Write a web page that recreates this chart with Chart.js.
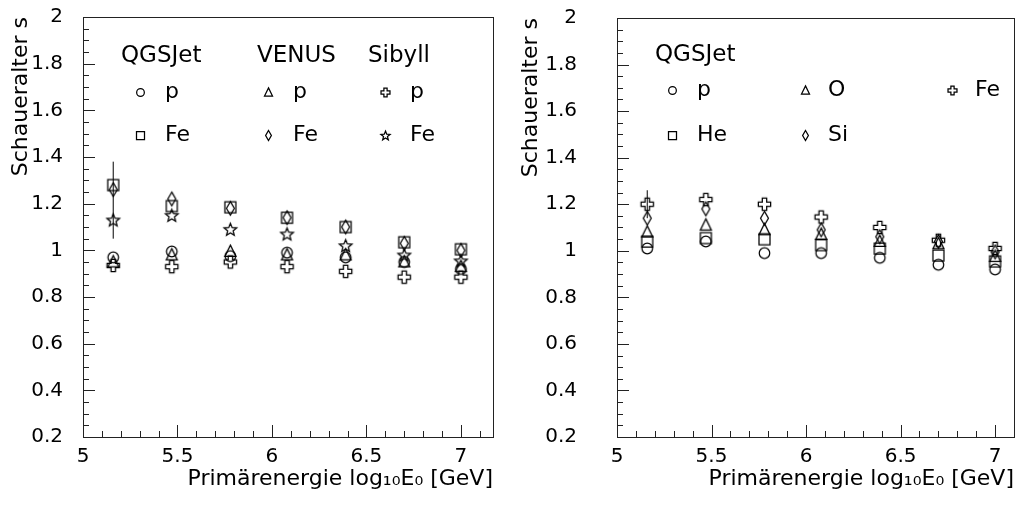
<!DOCTYPE html>
<html>
<head>
<meta charset="utf-8">
<script src="https://cdn.jsdelivr.net/npm/chart.js@4.4.1/dist/chart.umd.min.js"></script>
<style>
  html, body { margin: 0; padding: 0; background: #fff; }
  body { width: 1024px; height: 507px; position: relative; overflow: hidden; }
  canvas { position: absolute; top: 0; }
  #left { left: 0; }
  #right { left: 512px; }
</style>
</head>
<body>
<canvas id="left" width="512" height="507"></canvas>
<canvas id="right" width="512" height="507"></canvas>
<script>
/* ---------- Data ---------- */
const energies = [5.16, 5.47, 5.78, 6.08, 6.39, 6.70, 7.00];

// left panel: models, proton and iron
const qgsjetP  = [0.97, 0.995, 0.975, 0.99, 0.97, 0.95, 0.92];
const qgsjetFe = [1.28, 1.19, 1.185, 1.14, 1.10, 1.035, 1.005];
const venusP   = [0.95, 0.98, 0.995, 0.98, 0.98, 0.95, 0.93];
const venusFe  = [1.26, 1.22, 1.18, 1.14, 1.10, 1.03, 1.0];
const sibyllP  = [0.935, 0.93, 0.95, 0.93, 0.91, 0.885, 0.885];
const sibyllFe = [1.13, 1.15, 1.09, 1.07, 1.02, 0.98, 0.955];
const errLeft  = { x: 5.16, low: 1.05, high: 1.38 };

// right panel: QGSJet, five primaries
const primP  = [1.01, 1.04, 0.99, 0.99, 0.97, 0.94, 0.92];
const primHe = [1.04, 1.055, 1.05, 1.025, 1.01, 0.98, 0.955];
const primO  = [1.08, 1.11, 1.09, 1.07, 1.04, 1.03, 0.975];
const primSi = [1.14, 1.18, 1.14, 1.09, 1.06, 1.04, 0.995];
const primFe = [1.20, 1.22, 1.20, 1.145, 1.10, 1.045, 1.01];
const errRight = { x: 5.16, low: 1.14, high: 1.26 };

const yTicksMajor = 0.2, yTicksMinor = 0.05;
const xTicksMajor = 0.5, xTicksMinor = 0.1;

const xTitle = 'Primärenergie log₁₀E₀ [GeV]';
const yTitle = 'Schaueralter s';

/* ---------- Markers ---------- */
const INK = '#000';
const FONT = "'DejaVu Sans', sans-serif";

function makeMarker(kind, s) {
  const c = document.createElement('canvas');
  const n = Math.ceil(s * 1.3) + 4;
  c.width = c.height = n;
  const g = c.getContext('2d');
  const m = n / 2;
  g.strokeStyle = INK;
  g.lineWidth = 1.25;
  g.beginPath();
  if (kind === 'circle') {
    g.arc(m, m, s * 0.48, 0, Math.PI * 2);
  } else if (kind === 'square') {
    g.rect(m - s * 0.5, m - s * 0.5, s, s);
  } else if (kind === 'triangle') {
    g.moveTo(m, m - s * 0.58);
    g.lineTo(m + s * 0.5, m + s * 0.45);
    g.lineTo(m - s * 0.5, m + s * 0.45);
    g.closePath();
  } else if (kind === 'diamond') {
    g.moveTo(m, m - s * 0.62);
    g.lineTo(m + s * 0.36, m);
    g.lineTo(m, m + s * 0.62);
    g.lineTo(m - s * 0.36, m);
    g.closePath();
  } else if (kind === 'cross') {
    const o = s * 0.56, a = s * 0.2;
    const pts = [[-a, -o], [a, -o], [a, -a], [o, -a], [o, a], [a, a], [a, o], [-a, o], [-a, a], [-o, a], [-o, -a], [-a, -a]];
    pts.forEach((p, i) => (i ? g.lineTo(m + p[0], m + p[1]) : g.moveTo(m + p[0], m + p[1])));
    g.closePath();
  } else if (kind === 'star') {
    for (let i = 0; i < 10; i++) {
      const r = i % 2 ? s * 0.26 : s * 0.6;
      const ang = -Math.PI / 2 + i * Math.PI / 5;
      const px = m + r * Math.cos(ang), py = m + r * Math.sin(ang) + s * 0.05;
      i ? g.lineTo(px, py) : g.moveTo(px, py);
    }
    g.closePath();
  }
  g.stroke();
  return c;
}

const kinds = ['circle', 'square', 'triangle', 'diamond', 'cross', 'star'];
const mark = {}, markSmall = {};
kinds.forEach((k) => {
  mark[k] = makeMarker(k, 11);
  markSmall[k] = makeMarker(k, 8);
});

/* ---------- Helpers ---------- */
const pts = (ys) => energies.map((x, i) => ({ x, y: ys[i] }));
const fmt = (v) => String(+Number(v).toFixed(2));

function series(ys, kind) {
  return {
    data: pts(ys),
    pointStyle: mark[kind],
    pointRadius: 6,
    borderColor: INK,
    backgroundColor: 'transparent',
    showLine: false,
  };
}

function errorBar(e) {
  return {
    data: [{ x: e.x, y: e.low }, { x: e.x, y: e.high }],
    showLine: true,
    borderColor: INK,
    borderWidth: 1,
    pointRadius: 0,
  };
}

function drawMinorTicks(ctx, scale, minor, major, area, horizontal) {
  const n = Math.floor((scale.max - scale.min) / minor + 1e-6);
  ctx.beginPath();
  for (let i = 0; i <= n; i++) {
    const v = scale.min + i * minor;
    const isMajor = Math.abs(v / major - Math.round(v / major)) < 1e-6;
    const len = isMajor ? 12 : 6;
    const p = Math.round(scale.getPixelForValue(v)) + 0.5;
    if (horizontal) {
      ctx.moveTo(p, area.bottom);
      ctx.lineTo(p, area.bottom - len);
    } else {
      ctx.moveTo(area.left, p);
      ctx.lineTo(area.left + len, p);
    }
  }
  ctx.stroke();
}

function decoPlugin(legend) {
  return {
    id: 'deco',
    beforeDatasetsDraw(chart) {
      const { ctx, chartArea: a, scales } = chart;
      ctx.save();
      ctx.strokeStyle = '#222';
      ctx.lineWidth = 1;
      ctx.strokeRect(Math.round(a.left) + 0.5, Math.round(a.top) + 0.5,
        Math.round(a.right - a.left), Math.round(a.bottom - a.top));
      drawMinorTicks(ctx, scales.x, xTicksMinor, xTicksMajor, a, true);
      drawMinorTicks(ctx, scales.y, yTicksMinor, yTicksMajor, a, false);
      ctx.restore();
    },
    afterDraw(chart) {
      const ctx = chart.ctx;
      ctx.save();
      ctx.fillStyle = INK;
      ctx.textBaseline = 'middle';
      ctx.textAlign = 'left';
      ctx.font = `23px ${FONT}`;
      legend.headers.forEach((h) => ctx.fillText(h.text, h.x, h.y));
      ctx.font = `22px ${FONT}`;
      legend.items.forEach((it) => {
        const img = markSmall[it.kind];
        ctx.drawImage(img, Math.round(it.x - img.width / 2), Math.round(it.y - img.height / 2));
        ctx.fillText(it.text, it.tx, it.y);
      });
      ctx.restore();
    },
  };
}

function makeChart(id, datasets, cfg) {
  return new Chart(document.getElementById(id), {
    type: 'scatter',
    data: { datasets },
    options: {
      responsive: false,
      animation: false,
      events: [],
      layout: { padding: { top: cfg.top, right: cfg.right, left: 0, bottom: 0 } },
      plugins: { legend: { display: false }, tooltip: { enabled: false } },
      scales: {
        x: {
          type: 'linear',
          min: 5,
          max: cfg.xMax,
          afterFit: (s) => { s.height = 70; s.paddingLeft = 0; s.paddingRight = 0; },
          grid: { display: false, drawTicks: false },
          border: { display: false },
          ticks: { stepSize: xTicksMajor, includeBounds: false, padding: 8, maxRotation: 0, autoSkip: false, color: INK, font: { size: 20 }, callback: fmt },
          title: { display: true, text: xTitle, align: 'end', color: INK, font: { size: 22 }, padding: { top: 0, bottom: 15 } },
        },
        y: {
          type: 'linear',
          min: 0.2,
          max: 2,
          afterFit: (s) => { s.width = cfg.yWidth; s.paddingTop = 0; s.paddingBottom = 0; },
          grid: { display: false, drawTicks: false },
          border: { display: false },
          ticks: { stepSize: yTicksMajor, padding: cfg.tickPad, color: INK, font: { size: 20 }, callback: fmt },
          title: { display: true, text: yTitle, align: 'end', color: INK, font: { size: 22 }, padding: { top: cfg.titlePad, bottom: 0 } },
        },
      },
    },
    plugins: [decoPlugin(cfg.legend)],
  });
}

Chart.defaults.font.family = FONT;
Chart.defaults.color = INK;

/* ---------- Left panel ---------- */
makeChart('left', [
  series(qgsjetP, 'circle'),
  series(qgsjetFe, 'square'),
  series(venusP, 'triangle'),
  series(venusFe, 'diamond'),
  series(sibyllP, 'cross'),
  series(sibyllFe, 'star'),
  errorBar(errLeft),
], {
  top: 17, right: 19, yWidth: 83, tickPad: 20, titlePad: 8, xMax: 7.17,
  legend: {
    headers: [
      { text: 'QGSJet', x: 121, y: 56 },
      { text: 'VENUS', x: 257, y: 56 },
      { text: 'Sibyll', x: 368, y: 56 },
    ],
    items: [
      { kind: 'circle', x: 140, y: 92, text: 'p', tx: 165 },
      { kind: 'triangle', x: 268, y: 92, text: 'p', tx: 293 },
      { kind: 'cross', x: 385, y: 92, text: 'p', tx: 410 },
      { kind: 'square', x: 140, y: 135, text: 'Fe', tx: 165 },
      { kind: 'diamond', x: 268, y: 135, text: 'Fe', tx: 293 },
      { kind: 'star', x: 385, y: 135, text: 'Fe', tx: 410 },
    ],
  },
});

/* ---------- Right panel ---------- */
makeChart('right', [
  series(primP, 'circle'),
  series(primHe, 'square'),
  series(primO, 'triangle'),
  series(primSi, 'diamond'),
  series(primFe, 'cross'),
  errorBar(errRight),
], {
  top: 18, right: 10, yWidth: 105, tickPad: 40, titlePad: 6, xMax: 7.1,
  legend: {
    headers: [{ text: 'QGSJet', x: 143, y: 55 }],
    items: [
      { kind: 'circle', x: 160, y: 90, text: 'p', tx: 185 },
      { kind: 'triangle', x: 293, y: 90, text: 'O', tx: 316 },
      { kind: 'cross', x: 440, y: 90, text: 'Fe', tx: 463 },
      { kind: 'square', x: 160, y: 135, text: 'He', tx: 185 },
      { kind: 'diamond', x: 293, y: 135, text: 'Si', tx: 316 },
    ],
  },
});
</script>
</body>
</html>
